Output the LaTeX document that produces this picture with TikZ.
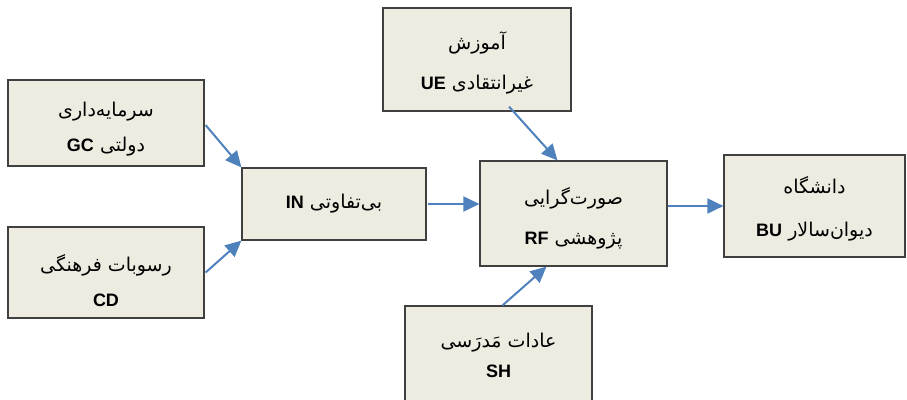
\documentclass[tikz,border=0pt]{standalone}
\usepackage{fontspec}
\usetikzlibrary{arrows.meta}
\TeXXeTstate=1
\newfontfamily\fafont[Script=Arabic]{DejaVu Sans}
\newfontfamily\latfont{Liberation Sans}
\newcommand{\fa}[1]{{\fafont\beginR #1\endR}}
\newcommand{\lat}[1]{\beginL{\latfont\bfseries\fontsize{18}{23}\selectfont #1}\endL}
\definecolor{boxfill}{HTML}{EEECE1}
\definecolor{boxline}{HTML}{404040}
\definecolor{arrblue}{HTML}{4F81BD}
\begin{document}
\begin{tikzpicture}[x=1pt,y=-1pt]
  \tikzstyle{box}=[draw=boxline,line width=1.2pt,fill=boxfill,inner sep=0pt]
  \tikzstyle{txt}=[align=center,font=\fontsize{19}{23}\selectfont,inner sep=0pt]
  \tikzstyle{arr}=[-{Triangle[length=16pt,width=15pt]},draw=arrblue,fill=arrblue,line width=2pt]
  \useasboundingbox (0,0) rectangle (907,399);
  % boxes
  \node [box,minimum width=196pt,minimum height=86pt]  (gc) at (106,123) {};
  \node [box,minimum width=196pt,minimum height=91pt]  (cd) at (106,272.5) {};
  \node [box,minimum width=184pt,minimum height=72pt]  (in) at (334,204) {};
  \node [box,minimum width=188pt,minimum height=103pt] (ue) at (477,59.5) {};
  \node [box,minimum width=187pt,minimum height=105pt] (rf) at (573.5,213.5) {};
  \node [box,minimum width=187pt,minimum height=104pt] (sh) at (498.5,358) {};
  \node [box,minimum width=181pt,minimum height=102pt] (bu) at (814.5,206) {};
  % texts
  \node [txt] (gc-t) at ([yshift=-6.5pt]gc.center)
    {\fa{سرمایه‌داری}\\[12pt]\fa{دولتی \lat{GC}}};
  \node [txt] (cd-t) at ([yshift=-8pt]cd.center)
    {\fa{رسوبات فرهنگی}\\[12pt]\lat{CD}};
  \node [txt] (in-t) at (in.center)
    {\fa{بی‌تفاوتی \lat{IN}}};
  \node [txt] (ue-t) at ([yshift=-3.5pt]ue.center)
    {\fa{آموزش}\\[17pt]\fa{غیرانتقادی \lat{UE}}};
  \node [txt] (rf-t) at ([yshift=-4.5pt]rf.center)
    {\fa{صورت‌گرایی}\\[17pt]\fa{پژوهشی \lat{RF}}};
  \node [txt] (sh-t) at ([yshift=3pt]sh.center)
    {\fa{عادات مَدرَسی}\\[7pt]\lat{SH}};
  \node [txt] (bu-t) at ([yshift=-2.5pt]bu.center)
    {\fa{دانشگاه}\\[20pt]\fa{دیوان‌سالار \lat{BU}}};
  % arrows
  \draw [arr] ([xshift=1pt,yshift=-2pt]gc.east) -- (in.north west);
  \draw [arr] ([xshift=1pt]cd.east) -- (in.south west);
  \draw [arr] ([xshift=1pt]in.east) -- (in.east -| rf.west);
  \draw [arr] ([xshift=32pt,yshift=5pt]ue.south) -- ([xshift=-16pt]rf.north);
  \draw [arr] ([xshift=4pt]sh.north) -- ([xshift=-27pt]rf.south);
  \draw [arr] (bu.west -| rf.east) -- (bu.west);
\end{tikzpicture}
\end{document}
